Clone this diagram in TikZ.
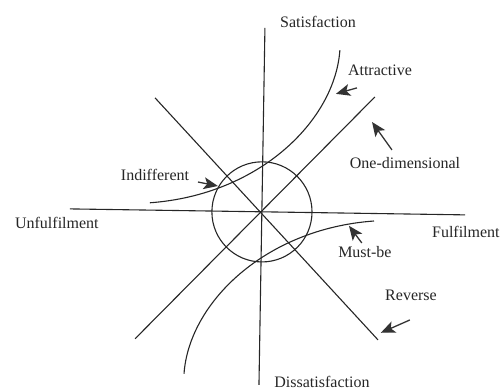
\documentclass[tikz,border=0pt]{standalone}
\usepackage{fontspec}
\setmainfont{Liberation Serif}
\usetikzlibrary{arrows.meta}

\begin{document}
\begin{tikzpicture}[>={Stealth[length=5mm,width=4.2mm,inset=1.2mm]},
  every node/.style={font=\fontsize{16}{18}\selectfont, text=black!85},
  curve/.style={line width=1.1pt, draw=black!85},
  pointer/.style={->, line width=1.3pt, draw=black!80}]
\useasboundingbox (-9.21,-6.33) rectangle (8.44,7.45);
% axes
\coordinate (o) at (0,0);
\coordinate (west) at (-6.75,0.105);  \coordinate (east) at (7.14,-0.105);
\coordinate (north) at (0.105,6.47);  \coordinate (south) at (-0.105,-6.08);
\draw[curve] (west) -- (east);
\draw[curve] (north) -- (south);
\node (unful) at (-7.21,-0.39) {Unfulfilment};
\node (ful) at (7.17,-0.70) {Fulfilment};
\node (sat) at (1.97,6.68) {Satisfaction};
\node (dissat) at (2.11,-5.98) {Dissatisfaction};
% diagonals (one-dimensional, reverse)
\coordinate (nw) at (-3.76,4.01);  \coordinate (se) at (4.08,-4.50);
\coordinate (sw) at (-4.46,-4.46); \coordinate (ne) at (3.97,4.04);
\draw[curve] (nw) -- (se);
\draw[curve] (sw) -- (ne);
% indifferent zone
\draw[curve] (o) circle (1.76);
% attractive and must-be curves
\coordinate (a0) at (-3.94,0.32); \coordinate (a1) at (2.74,5.69);
\draw[curve] (a0) .. controls (-0.07,0.60) and (2.57,3.23) .. (a1);
\coordinate (m0) at (3.94,-0.32); \coordinate (m1) at (-2.74,-5.69);
\draw[curve] (m0) .. controls (0.07,-0.60) and (-2.57,-3.23) .. (m1);
% labels with pointers
\node (attr) at (4.15,4.99) {Attractive};
\node (onedim) at (5.03,1.72) {One-dimensional};
\node (indiff) at (-3.76,1.30) {Indifferent};
\node (must) at (3.62,-1.41) {Must-be};
\node (rev) at (5.24,-2.92) {Reverse};
\coordinate (attrT) at (3.34,4.36);  \coordinate (attrH) at (2.60,4.15);
\coordinate (oneT) at (4.57,2.18);   \coordinate (oneH) at (3.87,3.16);
\coordinate (indT) at (-2.25,1.05);  \coordinate (indH) at (-1.55,0.91);
\coordinate (mustT) at (3.51,-1.09); \coordinate (mustH) at (3.06,-0.49);
\coordinate (revT) at (5.20,-3.80);  \coordinate (revH) at (4.18,-4.25);
\draw[pointer] (attrT) -- (attrH);
\draw[pointer] (oneT) -- (oneH);
\draw[pointer] (indT) -- (indH);
\draw[pointer] (mustT) -- (mustH);
\draw[pointer] (revT) -- (revH);
\end{tikzpicture}
\end{document}
